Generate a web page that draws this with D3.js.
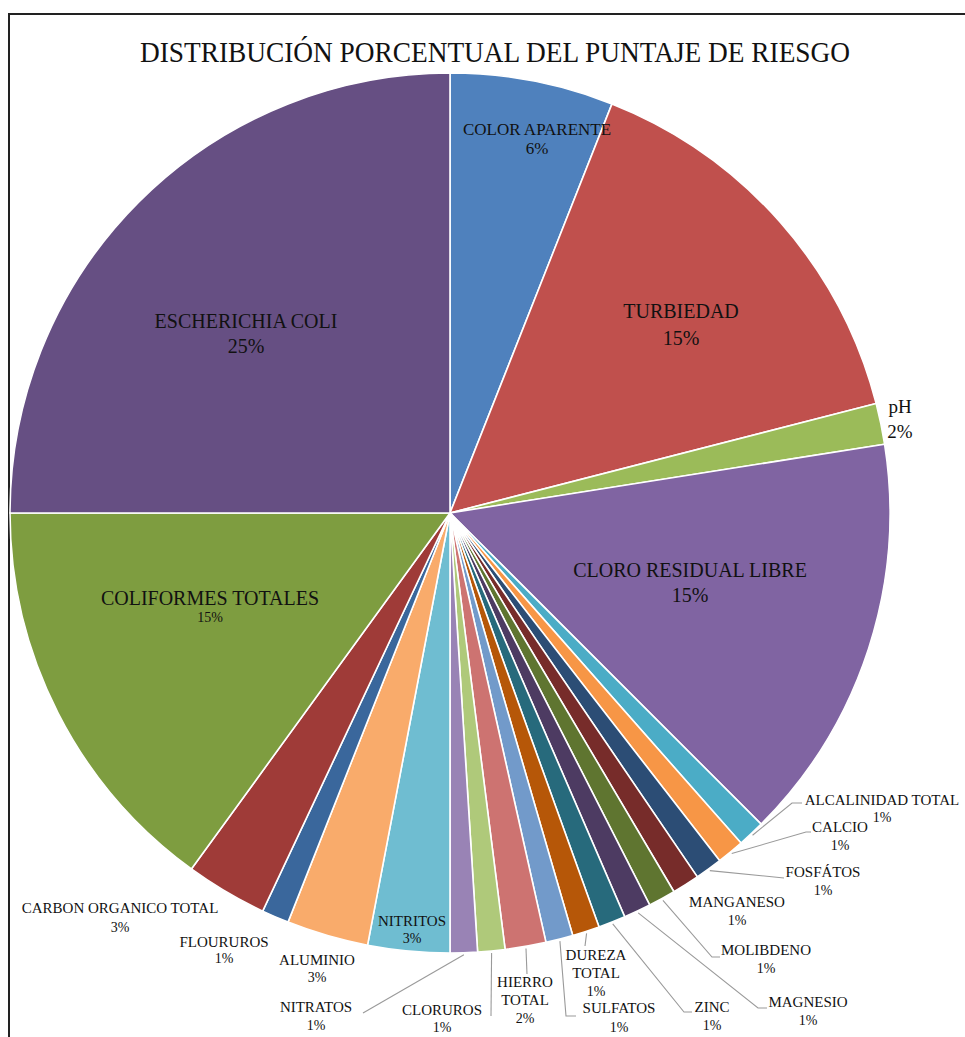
<!DOCTYPE html>
<html>
<head>
<meta charset="utf-8">
<script src="https://cdn.jsdelivr.net/npm/d3@7"></script>
<style>
  body { margin: 0; background: #fff; }
  svg { display: block; }
</style>
</head>
<body>
<svg id="chart" width="965" height="1037" font-family="'Liberation Serif', 'Times New Roman', Times, 'DejaVu Serif', serif"></svg>
<script>
// Puntaje de riesgo por parámetro (suma 100)
const categories = [
  "COLOR APARENTE", "TURBIEDAD", "pH", "CLORO RESIDUAL LIBRE",
  "ALCALINIDAD TOTAL", "CALCIO", "FOSFÁTOS", "MANGANESO", "MOLIBDENO",
  "MAGNESIO", "ZINC", "DUREZA TOTAL", "SULFATOS", "HIERRO TOTAL",
  "CLORUROS", "NITRATOS", "NITRITOS", "ALUMINIO", "FLOURUROS",
  "CARBON ORGANICO TOTAL", "COLIFORMES TOTALES", "ESCHERICHIA COLI"
];
const riskScores = [
  6, 15, 1.5, 15,
  1, 1, 1, 1, 1,
  1, 1, 1, 1, 1.5,
  1, 1, 3, 3, 1,
  3, 15, 25
];
const sliceColors = [
  "#4F81BD", "#C0504D", "#9BBB59", "#8064A2",
  "#4BACC6", "#F79646", "#2C4D75", "#772C2A", "#5F7530",
  "#4D3B62", "#276A7C", "#B65708", "#729ACA", "#CD7371",
  "#AFC97A", "#9983B5", "#6FBDD1", "#F9AB6B", "#3A679C",
  "#9F3B38", "#7E9D40", "#664F83"
];
const titleText = "DISTRIBUCIÓN PORCENTUAL DEL PUNTAJE DE RIESGO";

// Label placement: first-line baseline, line height, font sizes, optional wrap and leader elbows
const labelLayout = {
  "COLOR APARENTE":        { x: 537, y: 135, lh: 19, fs: 17, pfs: 17 },
  "TURBIEDAD":             { x: 681, y: 318, lh: 27, fs: 20, pfs: 20 },
  "pH":                    { x: 900, y: 413, lh: 25, fs: 19, pfs: 19 },
  "CLORO RESIDUAL LIBRE":  { x: 690, y: 577, lh: 25, fs: 20, pfs: 20 },
  "ALCALINIDAD TOTAL":     { x: 882, y: 805, lh: 17, fs: 15, pfs: 14, leader: [[792, 803], [802, 803]] },
  "CALCIO":                { x: 840, y: 832, lh: 18, fs: 15, pfs: 14, leader: [[806, 832], [811, 832]] },
  "FOSFÁTOS":              { x: 823, y: 877, lh: 18, fs: 15, pfs: 14, leader: [[784, 878]] },
  "MANGANESO":             { x: 737, y: 907, lh: 18, fs: 15, pfs: 14 },
  "MOLIBDENO":             { x: 766, y: 955, lh: 18, fs: 15, pfs: 14, leader: [[712, 957], [720, 957]] },
  "MAGNESIO":              { x: 808, y: 1007, lh: 18, fs: 15, pfs: 14, leader: [[758, 1008], [767, 1008]] },
  "ZINC":                  { x: 712, y: 1012, lh: 18, fs: 15, pfs: 14, leader: [[684, 1012], [692, 1012]] },
  "DUREZA TOTAL":          { x: 596, y: 960, lh: 18, fs: 15, pfs: 14, wrap: true, leader: [[585, 946]] },
  "SULFATOS":              { x: 619, y: 1013, lh: 19, fs: 15, pfs: 14, leader: [[566, 1016], [576, 1016]] },
  "HIERRO TOTAL":          { x: 525, y: 987, lh: 18, fs: 15, pfs: 14, wrap: true, leader: [[527, 974]] },
  "CLORUROS":              { x: 442, y: 1015, lh: 17, fs: 15, pfs: 14, leader: [[491, 1016]] },
  "NITRATOS":              { x: 316, y: 1012, lh: 18, fs: 15, pfs: 14, leader: [[363, 1013]] },
  "NITRITOS":              { x: 412, y: 926, lh: 17, fs: 15, pfs: 14 },
  "ALUMINIO":              { x: 317, y: 965, lh: 17, fs: 15, pfs: 14 },
  "FLOURUROS":             { x: 224, y: 947, lh: 16, fs: 15, pfs: 14 },
  "CARBON ORGANICO TOTAL": { x: 120, y: 913, lh: 19, fs: 15, pfs: 14 },
  "COLIFORMES TOTALES":    { x: 210, y: 605, lh: 17, fs: 20, pfs: 14 },
  "ESCHERICHIA COLI":      { x: 246, y: 328, lh: 25, fs: 20, pfs: 20 }
};

const svg = d3.select("#chart");
const cx = 450, cy = 513, radius = 440;

// Chart frame
svg.append("line").attr("x1", 8).attr("x2", 965).attr("y1", 14).attr("y2", 14)
  .attr("stroke", "#222").attr("stroke-width", 2);
svg.append("line").attr("x1", 9).attr("x2", 9).attr("y1", 14).attr("y2", 1037)
  .attr("stroke", "#222").attr("stroke-width", 2);

// Title
svg.append("text")
  .attr("x", 495).attr("y", 62)
  .attr("text-anchor", "middle")
  .attr("font-size", 30)
  .attr("fill", "#111")
  .attr("textLength", 710)
  .attr("lengthAdjust", "spacingAndGlyphs")
  .text(titleText);

const data = categories.map((name, i) => ({ name, value: riskScores[i], color: sliceColors[i] }));
const total = d3.sum(riskScores);

const pie = d3.pie().sort(null).value(d => d.value).startAngle(0).endAngle(2 * Math.PI);
const arcs = pie(data);
const arc = d3.arc().innerRadius(0).outerRadius(radius);

const g = svg.append("g").attr("transform", `translate(${cx},${cy})`);

g.selectAll("path.slice")
  .data(arcs)
  .join("path")
  .attr("class", "slice")
  .attr("d", arc)
  .attr("fill", d => d.data.color)
  .attr("stroke", "#fff")
  .attr("stroke-width", 1.6)
  .attr("stroke-linejoin", "round");

// Leader lines from the outer mid-point of each small slice
const leaderData = arcs.filter(d => labelLayout[d.data.name].leader);
svg.selectAll("polyline.leader")
  .data(leaderData)
  .join("polyline")
  .attr("class", "leader")
  .attr("fill", "none")
  .attr("stroke", "#9a9a9a")
  .attr("stroke-width", 1.1)
  .attr("points", d => {
    const a = (d.startAngle + d.endAngle) / 2;
    const start = [cx + (radius + 2) * Math.sin(a), cy - (radius + 2) * Math.cos(a)];
    return [start, ...labelLayout[d.data.name].leader].map(p => p.join(",")).join(" ");
  });

// Category and percentage labels
const fmtPct = v => Math.round(v / total * 100) + "%";
arcs.forEach(d => {
  const L = labelLayout[d.data.name];
  const lines = L.wrap ? d.data.name.split(" ") : [d.data.name];
  const t = svg.append("text")
    .attr("text-anchor", "middle")
    .attr("fill", "#111")
    .attr("x", L.x).attr("y", L.y);
  lines.forEach((ln, k) => {
    t.append("tspan")
      .attr("x", L.x)
      .attr("y", L.y + k * L.lh)
      .attr("font-size", L.fs)
      .text(ln);
  });
  t.append("tspan")
    .attr("x", L.x)
    .attr("y", L.y + lines.length * L.lh)
    .attr("font-size", L.pfs)
    .text(fmtPct(d.data.value));
});
</script>
</body>
</html>
